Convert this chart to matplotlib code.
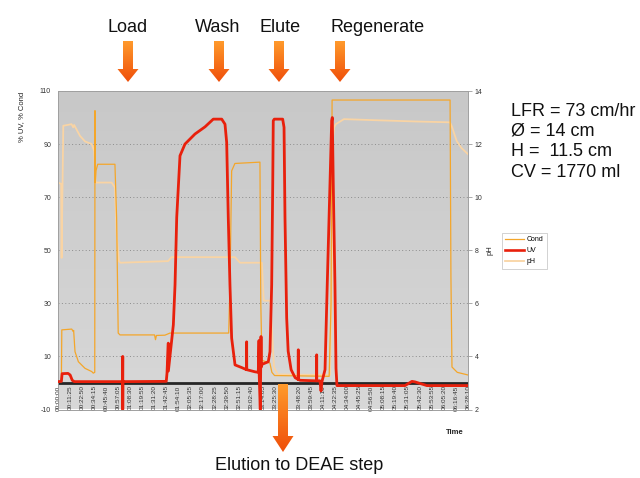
import numpy as np
import matplotlib
matplotlib.use("Agg")
import matplotlib.pyplot as plt
from matplotlib.patches import FancyArrow
from matplotlib.lines import Line2D
from matplotlib.colors import LinearSegmentedColormap

plt.rcParams['font.family'] = ['Liberation Sans', 'DejaVu Sans']
plt.rcParams['axes.unicode_minus'] = False

# run time axis labels (hh:mm:ss)
time_labels = ['00:00:00', '00:11:25', '00:22:50', '00:34:15', '00:45:40', '00:57:05',
               '01:08:30', '01:19:55', '01:31:20', '01:42:45', '01:54:10', '02:05:35',
               '02:17:00', '02:28:25', '02:39:50', '02:51:15', '03:02:40', '03:14:05',
               '03:25:30', '03:36:55', '03:48:20', '03:59:45', '04:11:10', '04:22:35',
               '04:34:00', '04:45:25', '04:56:50', '05:08:15', '05:19:40', '05:31:05',
               '05:42:30', '05:53:55', '06:05:20', '06:16:45', '06:28:10']

# Cond (% of max), time in minutes
cond_t = [0, 3.2, 3.6, 13.0, 14.4, 14.8, 16.1, 19.3, 25.6, 31.9, 33.4, 34.8, 35.0, 35.3,
          36.0, 37.6, 53.9, 55.5, 57.0, 58.7, 91.4, 92.3, 93.2, 101.2, 106.0, 161.6,
          162.8, 164.4, 167.5, 191.2, 192.0, 193.1, 200.6, 202.5, 205.0, 256.7, 258.5,
          259.5, 371.2, 372.0, 373.0, 378.0, 388.2]
cond_v = [0.3, 0.5, 20, 20.3, 19.4, 19.8, 11.8, 8, 5.5, 4.3, 3.7, 4, 102.6, 75.5,
          80, 82.4, 82.4, 62.3, 18.8, 18.1, 18.1, 16.3, 17.9, 18.0, 18.8, 18.8,
          37, 79.9, 82.7, 83.2, 30, 8.5, 7.5, 4, 2.8, 2.5, 30,
          106.6, 106.6, 40, 6, 4, 3]

# UV (% of max)
uv_t = [0, 3.2, 3.9, 9.5, 11.5, 13.5, 15.5, 61.2, 61.3, 61.3, 61.4, 102.5, 103.2, 104.4,
        104.5, 109.2, 110.8, 112.4, 115.5, 120.2, 129.7, 139.2, 147.0, 155.0, 158.1,
        159.7, 161.2, 162.8, 164.4, 167.6, 173.9, 178.5, 178.6, 178.7, 186.5, 189.6,
        190.3, 190.5, 191.5, 192.2, 192.5, 193.1, 199.1, 200.7, 202.3, 203.3, 203.8,
        204.8, 212.7, 214.0, 214.9, 216.5, 217.9, 220.7, 224.5, 227.4, 227.5, 227.6,
        229.3, 244.8, 244.9, 245.0, 248.0, 249.0, 249.9, 252.8, 254.9, 257.5, 259.1,
        259.7, 260.6, 262.2, 263.2, 264.1, 328.5, 335.1, 338.0, 349.3, 388.2]
uv_v = [0.5, 0.6, 3.5, 3.6, 3.0, 1.0, 0.5, 0.5, 10, -10, 0.5, 0.6, 3.7, 15,
        4.5, 21.9, 37, 62.4, 85.6, 90, 93.8, 96.5, 99.4, 99.4, 97.5,
        90.6, 62.4, 37, 16.9, 6.8, 5.8, 5.0, 15.5, 5.0, 4.2, 4.0,
        16, 3, -10, 17.5, 6, 7, 8, 11.8, 37, 75, 98.8,
        99.4, 99.4, 96.3, 62.3, 24.5, 12, 5, 2, 1.3, 12.5, 1.3,
        1.0, 0.8, 10.6, 0.8, 0.8, -3, 0.5, 5, 37, 75, 98.8,
        100, 75, 37, 5.5, -1.0, -1.0, 0.6, 0.4, -1.0, -1.0]

# pH
ph_t = [0, 3.0, 3.4, 5.0, 12.8, 14.4, 15.3, 20.8, 25.6, 31.9, 34.3, 35.6, 50.8, 53.9,
        55.5, 57.7, 59.0, 104.2, 107.4, 167.5, 172.3, 193.0, 194.8, 201.0, 202.5,
        204.5, 208.0, 257.5, 259.2, 260.5, 261.5, 263.0, 270.7, 300.0, 340.0, 371.1,
        373.0, 377.4, 382.0, 388.2]
ph_v = [10.55, 10.5, 7.71, 12.69, 12.75, 12.63, 12.72, 12.31, 12.1, 12.0, 11.74, 10.55,
        10.55, 10.36, 8.6, 7.59, 7.53, 7.59, 7.74, 7.74, 7.53, 7.53, 6.1, 6.1, 5.0,
        3.6, 3.32, 3.3, 7.0, 12.3, 12.64, 12.75, 12.94, 12.9, 12.85, 12.82,
        12.65, 12.12, 11.85, 11.62]

steps = ['Load', 'Wash', 'Elute', 'Regenerate']
column_info = ['LFR = 73 cm/hr', 'Ø = 14 cm', 'H =  11.5 cm', 'CV = 1770 ml']


def to_min(s):
    h, m, sec = (int(p) for p in s.split(':'))
    return h * 60 + m + sec / 60.0


tick_pos = [to_min(s) for s in time_labels]
t_end = tick_pos[-1]

W, H = 640, 478
fig = plt.figure(figsize=(6.4, 4.78), dpi=100)
fig.patch.set_facecolor('white')

rect = [58 / W, 1 - 409.5 / H, 410 / W, 318.5 / H]
ax2 = fig.add_axes(rect)          # pH axis, sits underneath
ax = fig.add_axes(rect, sharex=ax2)  # UV / Cond axis on top
ax.set_zorder(ax2.get_zorder() + 1)
ax.patch.set_visible(False)
ax2.yaxis.tick_right()
ax2.yaxis.set_label_position('right')

# grey panel with a faint vertical gradient
bg = LinearSegmentedColormap.from_list('bg', ['#c8c8c8', '#d8d8d8'])
ax2.imshow(np.linspace(0, 1, 100)[:, None], extent=(0, t_end, 2, 14), cmap=bg,
           aspect='auto', origin='upper', zorder=0)
ax2.set_xlim(0, t_end)
ax2.set_ylim(2, 14)
ax2.set_yticks([2, 4, 6, 8, 10, 12, 14])
ax2.tick_params(axis='y', labelsize=5, length=3, width=0.5, color='#888888',
                labelcolor='#333333', pad=2)
ax2.set_axisbelow(True)
ax2.grid(axis='y', linestyle=(0, (1, 2.5)), color='#8c8c8c', linewidth=0.7)
ax2.plot(ph_t, ph_v, color='#f9d4a4', lw=1.3, zorder=2)

ax.set_ylim(-10, 110)
ax.set_yticks([-10, 10, 30, 50, 70, 90, 110])
ax.tick_params(axis='y', labelsize=5, length=0, pad=5, labelcolor='#333333')
ax.set_xticks([])
ax2.tick_params(axis='x', bottom=False, labelbottom=False)
for sp in list(ax.spines.values()) + list(ax2.spines.values()):
    sp.set_color('#a0a0a0')
    sp.set_linewidth(0.6)

for pos, lab in zip(tick_pos, time_labels):
    ax.text(pos, -0.9, lab, rotation=90, ha='center', va='top', fontsize=4.6,
            color='#333333', zorder=1)

ax.axhline(0, color='#262626', lw=2.0, zorder=2)
ax.plot(cond_t, cond_v, color='#f4a62a', lw=0.9, zorder=3)
ax.plot(uv_t, uv_v, color='#e8200c', lw=2.0, zorder=4, solid_joinstyle='round')

fig.text(22 / W, 1 - 92 / H, '% UV, % Cond', rotation=90, ha='center', va='top',
         fontsize=5.5, color='#222222')
fig.text(490 / W, 1 - 250 / H, 'pH', rotation=90, ha='center', va='center',
         fontsize=5.5, color='#222222')
fig.text(455 / W, 1 - 432 / H, 'Time', ha='center', va='center', fontsize=5.5,
         fontweight='bold', color='#222222')

handles = [Line2D([], [], color='#f4a62a', lw=0.9),
           Line2D([], [], color='#e8200c', lw=1.9),
           Line2D([], [], color='#f9d4a4', lw=1.3)]
leg = fig.legend(handles, ['Cond', 'UV', 'pH'], loc='upper left',
                 bbox_to_anchor=(502 / W, 1 - 233 / H), fontsize=5, frameon=True,
                 fancybox=False, edgecolor='#b0b0b0', handlelength=2.6,
                 borderaxespad=0, borderpad=0.5, labelspacing=0.55, handletextpad=0.4)
leg.get_frame().set_linewidth(0.5)

# overlay in pixel coordinates for the annotation arrows and text
ov = fig.add_axes([0, 0, 1, 1], zorder=10)
ov.patch.set_visible(False)
ov.axis('off')
arrow_cmap = LinearSegmentedColormap.from_list('arr', ['#ff9a2c', '#ef4f0a'])


def grad_arrow(x, y0, y1, head_w=21, head_l=13):
    arr = FancyArrow(x, y0, 0, y1 - y0, width=10, head_width=head_w, head_length=head_l,
                     length_includes_head=True, facecolor='none', edgecolor='none')
    ov.add_patch(arr)
    im = ov.imshow(np.linspace(0, 1, 64)[:, None], extent=(x - 12, x + 12, y1, y0),
                   cmap=arrow_cmap, aspect='auto', origin='upper', zorder=3)
    im.set_clip_path(arr)


for name, x in zip(steps, [128, 219, 279, 340]):
    grad_arrow(x, 41, 82)
for name, x in zip(steps, [128, 218, 280, 378]):
    ov.text(x, 27, name, ha='center', va='center', fontsize=13, color='#111111')

grad_arrow(283, 384, 452, head_w=21, head_l=16)
ov.text(299, 466, 'Elution to DEAE step', ha='center', va='center', fontsize=13,
        color='#111111')

for i, line in enumerate(column_info):
    ov.text(511, 111 + i * 20.4, line, ha='left', va='center', fontsize=13,
            color='#111111')

ov.set_xlim(0, W)
ov.set_ylim(H, 0)

fig.savefig('out.png', dpi=100)
